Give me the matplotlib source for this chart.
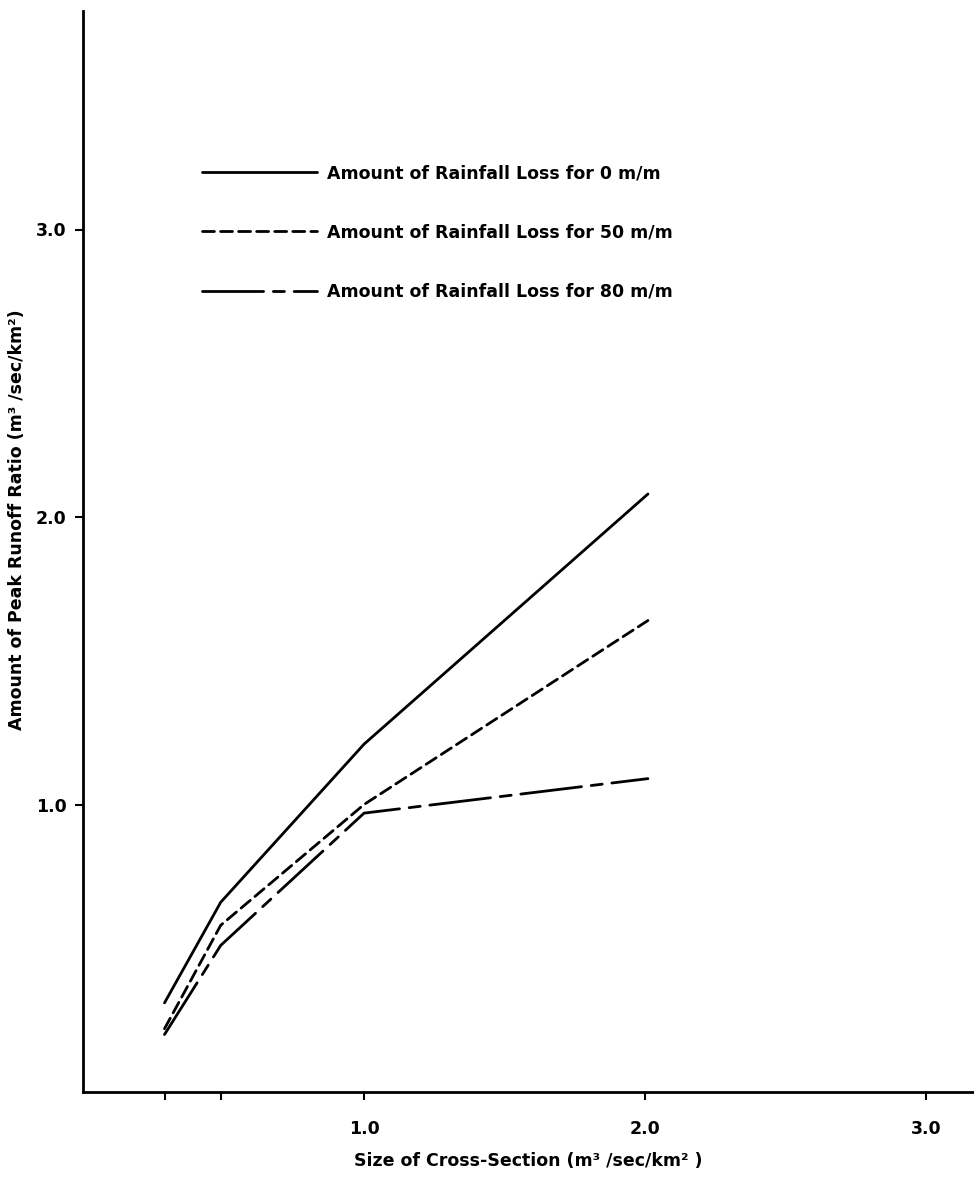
import matplotlib
matplotlib.use('Agg')
import matplotlib.pyplot as plt

# size of cross-section, shared by all three curves
size_x = [0.29, 0.49, 1.0, 2.01]

# peak runoff ratio for each rainfall loss
loss_0 = [0.31, 0.66, 1.21, 2.08]
loss_50 = [0.22, 0.58, 1.00, 1.64]
loss_80 = [0.20, 0.51, 0.97, 1.09]

labels = ['Amount of Rainfall Loss for 0 m/m',
          'Amount of Rainfall Loss for 50 m/m',
          'Amount of Rainfall Loss for 80 m/m']

x_ticks = [0.29, 0.49, 1.0, 2.0, 3.0]
x_tick_labels = ['', '', '1.0', '2.0', '3.0']
y_ticks = [1.0, 2.0, 3.0]
y_tick_labels = ['1.0', '2.0', '3.0']

plt.rcParams['font.family'] = ['DejaVu Sans']
plt.rcParams['font.weight'] = 'bold'
plt.rcParams['axes.labelweight'] = 'bold'
FS = 12.5

fig = plt.figure(figsize=(9.74, 11.79), dpi=100)
ax = fig.add_axes([83 / 974, 87 / 1179, 891 / 974, 1081 / 1179])

LW = 2.0
ax.plot(size_x, loss_0, color='black', lw=LW, solid_capstyle='round',
        solid_joinstyle='round', label=labels[0])
ax.plot(size_x, loss_50, color='black', lw=LW, dashes=(4.3, 2.2),
        dash_capstyle='round', label=labels[1])
ax.plot(size_x, loss_80, color='black', lw=LW, dashes=(22, 3.5, 4, 3.5),
        dash_capstyle='round', label=labels[2])

ax.set_xlim(0, 3.17)
ax.set_ylim(0, 3.76)
ax.spines['top'].set_visible(False)
ax.spines['right'].set_visible(False)
for s in ('left', 'bottom'):
    ax.spines[s].set_linewidth(2.0)

ax.set_xticks(x_ticks)
ax.set_xticklabels(x_tick_labels)
ax.set_yticks(y_ticks)
ax.set_yticklabels(y_tick_labels)
ax.tick_params(axis='x', direction='out', length=6, width=1.5, pad=14, labelsize=FS)
ax.tick_params(axis='y', direction='out', length=6, width=1.5, pad=6, labelsize=FS)

ax.set_xlabel('Size of Cross-Section (m³ /sec/km² )', fontsize=FS, labelpad=10)
ax.set_ylabel('Amount of Peak Runoff Ratio (m³ /sec/km²)', fontsize=FS)
ax.yaxis.set_label_coords(-0.064, 0.529)

leg = ax.legend(loc='upper left', frameon=False, fontsize=FS,
                handlelength=6.6, handletextpad=0.6, labelspacing=2.38,
                borderpad=0, borderaxespad=0)
leg.set_bbox_to_anchor((202 / 974, 1 - 164 / 1179), transform=fig.transFigure)

fig.savefig('out.png', dpi=100)
